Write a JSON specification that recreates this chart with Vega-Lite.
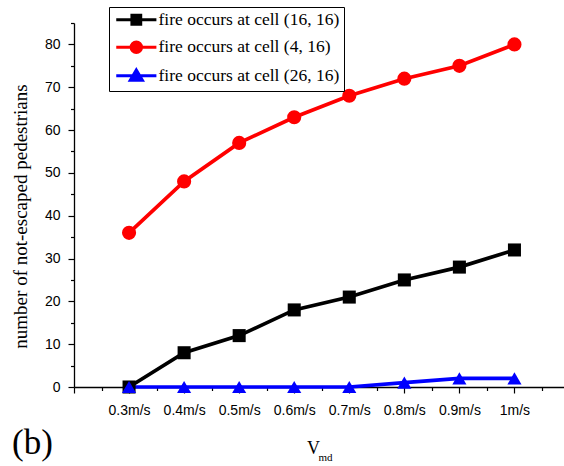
{
  "$schema": "https://vega.github.io/schema/vega-lite/v6.json",
  "width": 490,
  "height": 364,
  "autosize": "none",
  "padding": {"left": 74, "top": 23, "right": 0, "bottom": 79},
  "background": "white",
  "config": {
    "view": {"stroke": null},
    "axis": {"grid": false, "domainColor": "black", "tickColor": "black", "labelColor": "black", "titleColor": "black", "labelFont": "Liberation Sans", "labelFontSize": 14, "titleFont": "Liberation Serif", "titleFontWeight": "normal"}
  },
  "title": {"text": "(b)", "orient": "bottom", "anchor": "start", "frame": "group", "font": "Liberation Serif", "fontSize": 35, "fontWeight": "normal", "color": "black", "dx": -62, "dy": -36, "offset": 0},
  "data": {"values": [
    {"series": "fire occurs at cell (16, 16)", "v": 0.3, "n": 0},
    {"series": "fire occurs at cell (16, 16)", "v": 0.4, "n": 8},
    {"series": "fire occurs at cell (16, 16)", "v": 0.5, "n": 12},
    {"series": "fire occurs at cell (16, 16)", "v": 0.6, "n": 18},
    {"series": "fire occurs at cell (16, 16)", "v": 0.7, "n": 21},
    {"series": "fire occurs at cell (16, 16)", "v": 0.8, "n": 25},
    {"series": "fire occurs at cell (16, 16)", "v": 0.9, "n": 28},
    {"series": "fire occurs at cell (16, 16)", "v": 1.0, "n": 32},
    {"series": "fire occurs at cell (4, 16)", "v": 0.3, "n": 36},
    {"series": "fire occurs at cell (4, 16)", "v": 0.4, "n": 48},
    {"series": "fire occurs at cell (4, 16)", "v": 0.5, "n": 57},
    {"series": "fire occurs at cell (4, 16)", "v": 0.6, "n": 63},
    {"series": "fire occurs at cell (4, 16)", "v": 0.7, "n": 68},
    {"series": "fire occurs at cell (4, 16)", "v": 0.8, "n": 72},
    {"series": "fire occurs at cell (4, 16)", "v": 0.9, "n": 75},
    {"series": "fire occurs at cell (4, 16)", "v": 1.0, "n": 80},
    {"series": "fire occurs at cell (26, 16)", "v": 0.3, "n": 0},
    {"series": "fire occurs at cell (26, 16)", "v": 0.4, "n": 0},
    {"series": "fire occurs at cell (26, 16)", "v": 0.5, "n": 0},
    {"series": "fire occurs at cell (26, 16)", "v": 0.6, "n": 0},
    {"series": "fire occurs at cell (26, 16)", "v": 0.7, "n": 0},
    {"series": "fire occurs at cell (26, 16)", "v": 0.8, "n": 1},
    {"series": "fire occurs at cell (26, 16)", "v": 0.9, "n": 2},
    {"series": "fire occurs at cell (26, 16)", "v": 1.0, "n": 2}
  ]},
  "encoding": {
    "x": {"field": "v", "type": "quantitative", "scale": {"domain": [0.2, 1.09], "nice": false, "zero": false}, "axis": null},
    "y": {"field": "n", "type": "quantitative", "scale": {"domain": [0, 85], "nice": false, "zero": true}, "axis": null},
    "color": {"field": "series", "type": "nominal",
      "scale": {"domain": ["fire occurs at cell (16, 16)", "fire occurs at cell (4, 16)", "fire occurs at cell (26, 16)"], "range": ["#000000", "#ff0000", "#0000ff"]}}
  },
  "layer": [
    {
      "mark": {"type": "line", "strokeWidth": 3.7},
      "encoding": {
        "x": {"field": "v", "type": "quantitative",
          "axis": {"orient": "bottom", "values": [0.2, 0.3, 0.4, 0.5, 0.6, 0.7, 0.8, 0.9, 1.0], "labelExpr": "datum.value < 0.25 ? '' : datum.value + 'm/s'", "tickSize": 6, "tickWidth": 1.2, "domainWidth": 1.3, "labelPadding": 10, "labelAngle": 0, "labelFlush": false, "labelOverlap": false, "labelBound": false,
            "title": "V", "titleFontSize": 18, "titleX": 239, "titleY": 66, "titleBaseline": "alphabetic", "titleAlign": "center"}},
        "y": {"field": "n", "type": "quantitative",
          "axis": {"orient": "left", "values": [0, 10, 20, 30, 40, 50, 60, 70, 80], "tickSize": 6, "tickWidth": 1.2, "domainWidth": 1.3, "labelPadding": 8, "labelFlush": false, "labelOverlap": false,
            "title": "number of not-escaped pedestrians", "titleFontSize": 19, "titleAngle": -90, "titleX": -48, "titleY": 193, "titleBaseline": "alphabetic", "titleAlign": "center"}},
        "color": {"field": "series", "type": "nominal",
          "legend": {"title": null, "orient": "none", "legendX": 35, "legendY": -16, "direction": "vertical", "strokeColor": "black", "fillColor": "white", "padding": 4,
            "labelFont": "Liberation Serif", "labelFontSize": 17.5, "labelColor": "black", "labelOffset": 28, "labelLimit": 400, "rowPadding": 4.5, "symbolSize": 121, "symbolStrokeWidth": 3,
            "encode": {"symbols": {"update": {
              "shape": {"signal": "datum.value === 'fire occurs at cell (16, 16)' ? 'M-1,0H6.3M1.85,-0.8H3.45V0.8H1.85Z' : (datum.value === 'fire occurs at cell (4, 16)' ? 'M-1,0H6.3M3.6,0A0.95,0.95,0,1,1,1.7,0A0.95,0.95,0,1,1,3.6,0Z' : 'M-1,0H6.3M2.65,-1.05L3.75,0.8L1.55,0.8Z')"},
              "fill": {"signal": "scale('color', datum.value)"},
              "stroke": {"signal": "scale('color', datum.value)"},
              "strokeWidth": {"value": 3},
              "opacity": {"value": 1}
            }}}}}
      }
    },
    {
      "transform": [{"filter": "datum.series === 'fire occurs at cell (16, 16)'"}],
      "mark": {"type": "point", "filled": true, "opacity": 1, "size": 170, "shape": "square"},
      "encoding": {
        "x": {"field": "v", "type": "quantitative",
          "axis": {"orient": "bottom", "values": [0.25, 0.35, 0.45, 0.55, 0.65, 0.75, 0.85, 0.95, 1.05], "tickSize": 3.5, "tickWidth": 1.2, "labels": false, "domain": false,
            "title": "md", "titleFont": "Liberation Serif", "titleFontSize": 11, "titleX": 251, "titleY": 73, "titleBaseline": "alphabetic", "titleAlign": "center"}},
        "y": {"field": "n", "type": "quantitative",
          "axis": {"orient": "left", "values": [5, 15, 25, 35, 45, 55, 65, 75, 85], "tickSize": 3.5, "tickWidth": 1.2, "labels": false, "domain": false, "title": null}}
      }
    },
    {
      "transform": [{"filter": "datum.series === 'fire occurs at cell (4, 16)'"}],
      "mark": {"type": "point", "filled": true, "opacity": 1, "size": 200, "shape": "circle"}
    },
    {
      "transform": [{"filter": "datum.series === 'fire occurs at cell (26, 16)'"}],
      "mark": {"type": "point", "filled": true, "opacity": 1, "size": 200, "shape": "triangle-up"}
    }
  ],
  "resolve": {"axis": {"x": "independent", "y": "independent"}}
}
